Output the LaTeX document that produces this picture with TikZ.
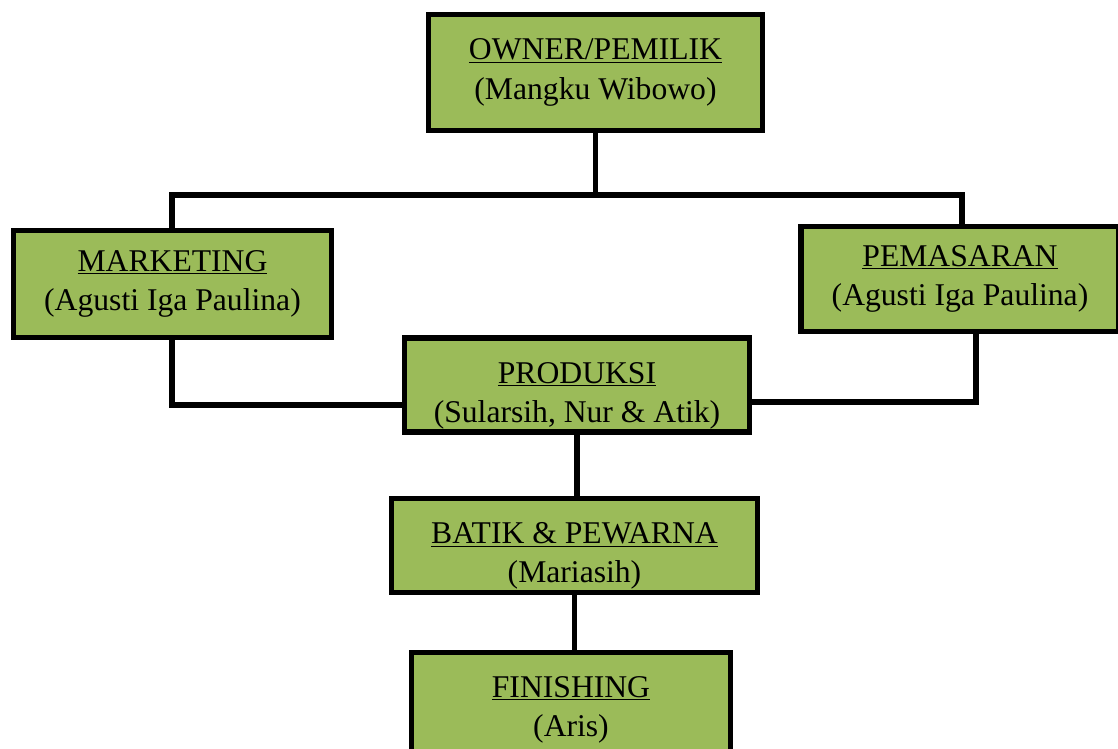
\documentclass[tikz,border=0pt]{standalone}
\usepackage{fontspec}
\setmainfont{Liberation Serif}
\definecolor{orggreen}{RGB}{155,187,89}

\begin{document}
\begin{tikzpicture}[x=0.025cm, y=-0.025cm,
  unit/.style={draw=black, fill=orggreen, line width=4pt, align=center, inner sep=2pt, font=\fontsize{22.5}{28}\selectfont},
  link/.style={line width=4pt, black},
]
  \useasboundingbox (0,0) rectangle (1118,749);
  \clip (0,0) rectangle (1118,749);
  % boxes
  \node[unit, minimum width=8.35cm, minimum height=2.9cm] (owner) at (595.5,72.5) {\underline{OWNER/PEMILIK}\\(Mangku Wibowo)};
  \node[unit, minimum width=7.95cm, minimum height=2.675cm] (marketing) at (172.5,284) {\underline{MARKETING}\\(Agusti Iga Paulina)};
  \node[unit, minimum width=7.95cm, minimum height=2.625cm] (pemasaran) at (960,279) {\underline{PEMASARAN}\\(Agusti Iga Paulina)};
  \node[unit, minimum width=8.625cm, minimum height=2.275cm] (produksi) at (577,385) {\rule{0pt}{30pt}\underline{PRODUKSI}\\(Sularsih, Nur \& Atik)};
  \node[unit, minimum width=9.15cm, minimum height=2.25cm] (batik) at (574.5,545.5) {\rule{0pt}{30pt}\underline{BATIK \& PEWARNA}\\(Mariasih)};
  \node[unit, minimum width=7.975cm, minimum height=2.875cm] (finishing) at (571,710) {\underline{FINISHING}\\(Aris)};
  % lines
  \coordinate (busL) at (172,195);
  \coordinate (busR) at (962,195);
  \coordinate (mkL) at (172,405);
  \coordinate (pmR) at (976,402);
  \draw[link] (owner.south) -- (owner.south |- busL);
  \draw[link] (busL |- marketing.north) -- (busL) -- (busR) -- (busR |- pemasaran.north);
  \draw[link] (mkL |- marketing.south) -- (mkL) -- (mkL -| produksi.west);
  \draw[link] (pmR |- pemasaran.south) -- (pmR) -- (pmR -| produksi.east);
  \draw[link] (produksi.south) -- (produksi.south |- batik.north);
  \draw[link] (batik.south) -- (batik.south |- finishing.north);
\end{tikzpicture}
\end{document}
